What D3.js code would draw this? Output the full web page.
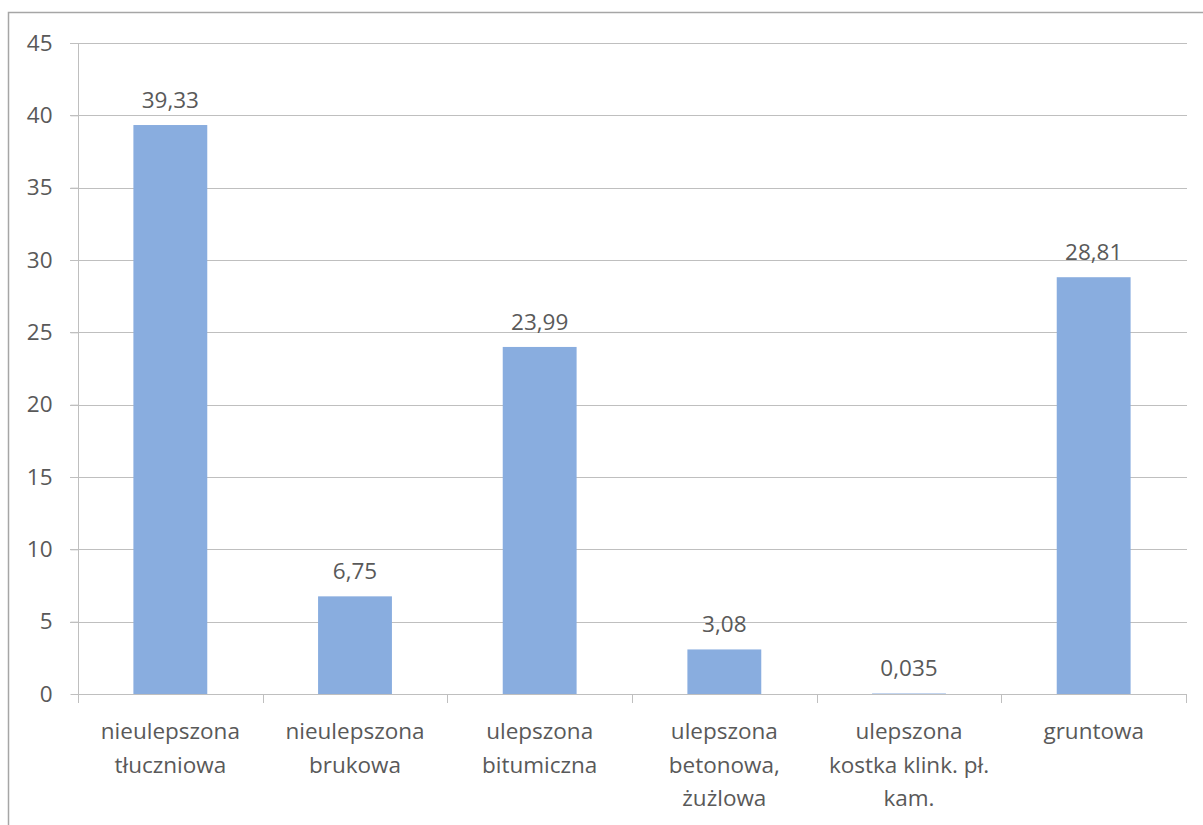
<!DOCTYPE html>
<html>
<head>
<meta charset="utf-8">
<script src="https://cdn.jsdelivr.net/npm/d3@7/dist/d3.min.js"></script>
<style>
  html, body { margin: 0; padding: 0; background: #fff; }
  svg { display: block; }
  text { font-family: "Open Sans", "Noto Sans", sans-serif; fill: #595959; }
</style>
</head>
<body>
<svg id="chart" width="1203" height="825"></svg>
<script>
// Road surface types (share, %)
const categories = [
  ["nieulepszona", "tłuczniowa"],
  ["nieulepszona", "brukowa"],
  ["ulepszona", "bitumiczna"],
  ["ulepszona", "betonowa,", "żużlowa"],
  ["ulepszona", "kostka klink. pł.", "kam."],
  ["gruntowa"]
];
const values = [39.33, 6.75, 23.99, 3.08, 0.035, 28.81];
const valueLabels = ["39,33", "6,75", "23,99", "3,08", "0,035", "28,81"];
const yTicks = [0, 5, 10, 15, 20, 25, 30, 35, 40, 45];

const fontSize = 22.5;
const svg = d3.select("#chart");

// outer chart frame
svg.append("rect")
  .attr("x", 8.5).attr("y", 12.5)
  .attr("width", 1240).attr("height", 860)
  .attr("fill", "none").attr("stroke", "#a6a6a6").attr("stroke-width", 1.5);

const plotLeft = 78, plotRight = 1186, plotTop = 43, plotBottom = 694;

const x = d3.scaleBand()
  .domain(d3.range(categories.length))
  .range([plotLeft, plotRight])
  .paddingInner(0.6)
  .paddingOuter(0.3);

const y = d3.scaleLinear().domain([0, 45]).range([plotBottom, plotTop]);

// horizontal gridlines
svg.append("g")
  .selectAll("line")
  .data(yTicks.filter(d => d > 0))
  .join("line")
  .attr("x1", plotLeft - 8).attr("x2", plotRight + 1)
  .attr("y1", d => Math.round(y(d)) + 0.5).attr("y2", d => Math.round(y(d)) + 0.5)
  .attr("stroke", "#bfbfbf").attr("stroke-width", 1);

// y axis
const yAxis = svg.append("g")
  .attr("transform", `translate(${plotLeft + 0.5},0)`)
  .call(d3.axisLeft(y).tickValues(yTicks).tickSize(8).tickPadding(18).tickFormat(d3.format("d")));
yAxis.select(".domain").attr("stroke", "#bfbfbf").attr("d", `M0,${plotTop}V${plotBottom}`);
yAxis.selectAll(".tick line").attr("stroke", "#bfbfbf");
yAxis.selectAll(".tick text")
  .attr("font-size", fontSize).attr("fill", "#595959")
  .attr("font-family", "'Open Sans', sans-serif");

// bars
svg.append("g")
  .selectAll("rect")
  .data(values)
  .join("rect")
  .attr("x", (d, i) => x(i))
  .attr("width", x.bandwidth())
  .attr("y", d => y(d))
  .attr("height", d => y(0) - y(d))
  .attr("fill", "#89ADDF");

// x axis line and category separator ticks
const xg = svg.append("g");
xg.append("line")
  .attr("x1", plotLeft).attr("x2", plotRight + 1)
  .attr("y1", plotBottom + 0.5).attr("y2", plotBottom + 0.5)
  .attr("stroke", "#bfbfbf");
const edges = d3.range(categories.length + 1).map(i => plotLeft + i * (plotRight - plotLeft) / categories.length);
xg.selectAll("line.tick")
  .data(edges)
  .join("line")
  .attr("class", "tick")
  .attr("x1", d => Math.round(d) + 0.5).attr("x2", d => Math.round(d) + 0.5)
  .attr("y1", plotBottom).attr("y2", plotBottom + 9)
  .attr("stroke", "#bfbfbf");

// category labels
const lab = svg.append("g")
  .selectAll("text")
  .data(categories)
  .join("text")
  .attr("text-anchor", "middle")
  .attr("font-size", fontSize)
  .attr("transform", (d, i) => `translate(${x(i) + x.bandwidth() / 2},0)`);
lab.selectAll("tspan")
  .data(d => d)
  .join("tspan")
  .attr("x", 0)
  .attr("y", (d, j) => 739 + j * 33.5)
  .text(d => d);

// value labels
svg.append("g")
  .selectAll("text")
  .data(values)
  .join("text")
  .attr("text-anchor", "middle")
  .attr("font-size", fontSize)
  .attr("x", (d, i) => x(i) + x.bandwidth() / 2)
  .attr("y", d => y(d) - 17)
  .text((d, i) => valueLabels[i]);
</script>
</body>
</html>
